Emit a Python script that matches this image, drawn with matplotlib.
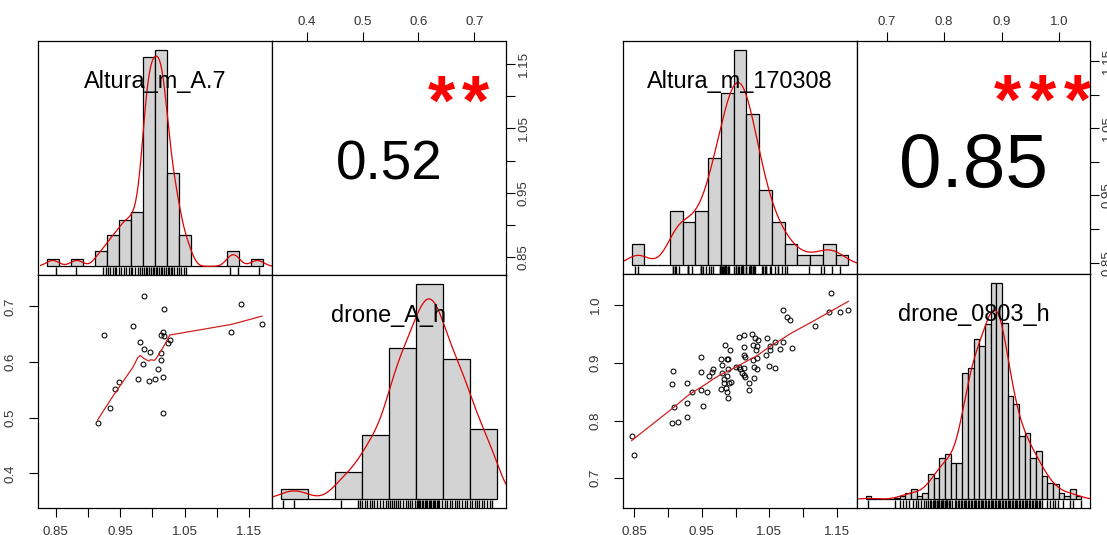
import numpy as np
import matplotlib
matplotlib.use("Agg")
import matplotlib.pyplot as plt
import matplotlib.transforms as mtransforms
from matplotlib.textpath import TextPath
from matplotlib.font_manager import FontProperties
from math import erf

plt.rcParams['font.family'] = ['Liberation Sans', 'DejaVu Sans']

# ---------------- data: left chart ----------------
left_names = ["Altura_m_A.7", "drone_A_h"]
left_r_text = "0.52"
left_stars = "**"

left_alt_breaks = [0.82, 0.84, 0.86, 0.88, 0.90, 0.92, 0.94, 0.96, 0.98, 1.00,
                   1.02, 1.04, 1.06, 1.08, 1.10, 1.12, 1.14, 1.16, 1.18]
left_alt_counts = [1, 0, 1, 0, 2, 4, 6, 7, 27, 28, 12, 4, 0, 0, 0, 2, 0, 1]
left_alt_rug = [0.836, 0.869, 0.914, 0.918, 0.922, 0.926, 0.930, 0.934, 0.936, 0.940,
                0.944, 0.949, 0.952, 0.956, 0.960, 0.962, 0.966, 0.971, 0.975, 0.979,
                0.982, 0.985, 0.987, 0.990, 0.993, 0.996, 0.998, 1.001, 1.004, 1.007,
                1.010, 1.012, 1.015, 1.018, 1.021, 1.023, 1.026, 1.029, 1.032, 1.036,
                1.040, 1.044, 1.048, 1.051, 1.125, 1.138, 1.172]

left_drone_breaks = [0.35, 0.40, 0.45, 0.50, 0.55, 0.60, 0.65, 0.70, 0.75]
left_drone_counts = [2, 0, 5, 12, 28, 40, 26, 13]
left_drone_rug = [0.3535, 0.375, 0.461, 0.492, 0.496, 0.500, 0.505, 0.509, 0.514, 0.519,
                  0.522, 0.528, 0.533, 0.539, 0.544, 0.548, 0.552, 0.555, 0.559, 0.562,
                  0.567, 0.571, 0.576, 0.581, 0.585, 0.588, 0.593, 0.5985, 0.601, 0.603,
                  0.606, 0.608, 0.611, 0.613, 0.616, 0.618, 0.621, 0.623, 0.626, 0.628,
                  0.631, 0.633, 0.635, 0.638, 0.640, 0.643, 0.648, 0.653, 0.657, 0.662,
                  0.667, 0.671, 0.675, 0.680, 0.685, 0.690, 0.694, 0.699, 0.704, 0.708,
                  0.712, 0.717, 0.722, 0.726, 0.731, 0.736, 0.741]

left_scatter_x = [0.915, 0.925, 0.934, 0.942, 0.9475, 0.9697, 0.977, 0.981, 0.9847, 0.9867,
                  0.9867, 0.9944, 0.9964, 1.0037, 1.0089, 1.013, 1.013, 1.013, 1.0166, 1.0166,
                  1.0166, 1.0187, 1.0187, 1.0243, 1.027, 1.1224, 1.1373, 1.1698]
left_scatter_y = [0.490, 0.649, 0.518, 0.551, 0.564, 0.664, 0.569, 0.636, 0.597, 0.719,
                  0.623, 0.566, 0.619, 0.569, 0.587, 0.603, 0.617, 0.649, 0.654, 0.573,
                  0.508, 0.695, 0.647, 0.634, 0.640, 0.655, 0.7036, 0.669]

left_v1_ticks = [0.85, 0.90, 0.95, 1.00, 1.05, 1.10, 1.15]
left_v1_labels = ["0.85", "", "0.95", "", "1.05", "", "1.15"]
left_v2_ticks = [0.4, 0.5, 0.6, 0.7]
left_v2_labels = ["0.4", "0.5", "0.6", "0.7"]

# ---------------- data: right chart ----------------
right_names = ["Altura_m_170308", "drone_0803_h"]
right_r_text = "0.85"
right_stars = "***"

right_alt_breaks = [0.84, 0.86, 0.88, 0.90, 0.92, 0.94, 0.96, 0.98, 1.00, 1.02,
                    1.04, 1.06, 1.08, 1.10, 1.12, 1.14, 1.16, 1.18]
right_alt_counts = [2, 0, 0, 5, 4, 5, 10, 16, 20, 14, 7, 4, 2, 1, 1, 2, 1]

right_drone_breaks = [0.66, 0.67, 0.68, 0.69, 0.70, 0.71, 0.72, 0.73, 0.74, 0.75,
                      0.76, 0.77, 0.78, 0.79, 0.80, 0.81, 0.82, 0.83, 0.84, 0.85,
                      0.86, 0.87, 0.88, 0.89, 0.90, 0.91, 0.92, 0.93, 0.94, 0.95,
                      0.96, 0.97, 0.98, 0.99, 1.00, 1.01, 1.02, 1.03, 1.04]
right_drone_counts = [2, 0, 0, 0, 0, 1, 2, 4, 6, 2, 4, 15, 13, 25, 27, 22, 22, 76, 79,
                      96, 92, 105, 130, 130, 106, 62, 57, 38, 40, 25, 29, 14, 10, 9, 4,
                      2, 6, 2]
right_drone_rug = [0.6636, 0.712, 0.7205, 0.726, 0.731, 0.737, 0.744, 0.749, 0.753, 0.757,
                   0.762, 0.766, 0.770, 0.773, 0.776, 0.778, 0.780, 0.7815, 0.783, 0.785,
                   0.787, 0.7885, 0.790, 0.792, 0.794, 0.7955, 0.797, 0.799, 0.801, 0.8025,
                   0.804, 0.806, 0.808, 0.8115, 0.8175, 0.820, 0.8225, 0.825, 0.8275, 0.830,
                   0.8325, 0.835, 0.8375, 0.840, 0.8425, 0.845, 0.8475, 0.850, 0.8525, 0.855,
                   0.8575, 0.860, 0.8625, 0.865, 0.8675, 0.870, 0.8725, 0.875, 0.8775, 0.880,
                   0.8825, 0.885, 0.8875, 0.890, 0.8925, 0.895, 0.8975, 0.900, 0.9025, 0.905,
                   0.9075, 0.910, 0.9125, 0.915, 0.9175, 0.920, 0.9225, 0.925, 0.9275, 0.930,
                   0.9325, 0.935, 0.9375, 0.940, 0.9425, 0.945, 0.9475, 0.950, 0.9525, 0.955,
                   0.9575, 0.960, 0.9625, 0.965, 0.967, 0.970, 0.9787, 0.9846, 0.9893, 0.9934,
                   0.9993, 1.0081, 1.0198, 1.0245, 1.0386]

right_scatter_x = [0.846, 0.850, 0.9054, 0.9074, 0.9054, 0.9093, 0.9143, 0.9286, 0.9286, 0.9286,
                   0.9351, 0.9484, 0.9484, 0.9489, 0.9524, 0.9573, 0.9608, 0.9647, 0.9672, 0.9781,
                   0.9796, 0.9796, 0.9781, 0.9821, 0.9831, 0.9845, 0.9860, 0.9870, 0.9885, 0.9880,
                   0.9870, 0.9870, 0.9885, 0.9919, 0.9909, 0.9929, 1.0003, 1.0043, 1.0043, 1.0068,
                   1.0092, 1.0127, 1.0127, 1.0127, 1.0142, 1.0127, 1.0117, 1.0142, 1.0191, 1.0201,
                   1.0241, 1.0251, 1.0280, 1.0251, 1.0266, 1.0266, 1.0300, 1.0315, 1.0315, 1.0330,
                   1.0315, 1.0453, 1.0463, 1.0498, 1.0513, 1.0513, 1.0577, 1.0587, 1.0651, 1.0696,
                   1.0696, 1.0760, 1.0800, 1.0834, 1.1180, 1.1378, 1.1413, 1.1551, 1.167]
right_scatter_y = [0.7734, 0.741, 0.8627, 0.8864, 0.7953, 0.8230, 0.7970, 0.8656, 0.8299, 0.8068,
                   0.8501, 0.9095, 0.8841, 0.8529, 0.8253, 0.8501, 0.8772, 0.8847, 0.8887, 0.9072,
                   0.8962, 0.8818, 0.8547, 0.8714, 0.8645, 0.9302, 0.8558, 0.9060, 0.9060, 0.8887,
                   0.8772, 0.8501, 0.8397, 0.9221, 0.8645, 0.8674, 0.8933, 0.9452, 0.8933, 0.8887,
                   0.8818, 0.9475, 0.9279, 0.9135, 0.9095, 0.8904, 0.8789, 0.8749, 0.8645, 0.8529,
                   0.9498, 0.9308, 0.9423, 0.9048, 0.8933, 0.8743, 0.9221, 0.8887, 0.9077, 0.9394,
                   0.9291, 0.9135, 0.9423, 0.8945, 0.9291, 0.9221, 0.9366, 0.8904, 0.9239, 0.9913,
                   0.9366, 0.9787, 0.9740, 0.9262, 0.9637, 0.9885, 1.0213, 0.9873, 0.9913]
right_alt_rug = right_scatter_x

right_v1_ticks = [0.85, 0.90, 0.95, 1.00, 1.05, 1.10, 1.15]
right_v1_labels = ["0.85", "", "0.95", "", "1.05", "", "1.15"]
right_v2_ticks = [0.7, 0.8, 0.9, 1.0]
right_v2_labels = ["0.7", "0.8", "0.9", "1.0"]

# kernel bandwidth multipliers (relative to nrd0 of the binned values)
left_bw_scale = [1.6, 0.85]
right_bw_scale = [1.0, 1.8]

# ---------------- drawing ----------------
W, H = 1107, 535
fig = plt.figure(figsize=(W / 100, H / 100), dpi=100)

TICK_LEN = 6.5
TICK_FS = 9.5
TICK_COL = '#333333'
LABEL_FS = 16.9
STAR_FONT = FontProperties(family='Liberation Sans', weight='bold')


def add_ax(x0, y0, x1, y1):
    return fig.add_axes([x0 / W, 1 - y1 / H, (x1 - x0) / W, (y1 - y0) / H])


def padded(vals):
    lo, hi = min(vals), max(vals)
    d = hi - lo
    return lo - 0.04 * d, hi + 0.04 * d


def clean(ax):
    for s in ax.spines.values():
        s.set_linewidth(0.9)
        s.set_color('black')
    ax.tick_params(bottom=False, top=False, left=False, right=False,
                   labelbottom=False, labeltop=False, labelleft=False, labelright=False)


def centered_text(ax, x, y, s, size, color, center_em, dx_pt=0.0, weight='normal'):
    tr = mtransforms.offset_copy(ax.transAxes, fig=fig, x=dx_pt, y=-center_em * size,
                                 units='points')
    ax.text(x, y, s, transform=tr, fontsize=size, ha='center', va='baseline',
            color=color, clip_on=True, fontweight=weight)


def star_text(ax, stars, fx, fy, h_px, pitch_px):
    ext = TextPath((0, 0), '*', size=1, prop=STAR_FONT).get_extents()
    size_pt = h_px / (ext.y1 - ext.y0) * 0.72
    center_em = (ext.y0 + ext.y1) / 2
    n = len(stars)
    for k in range(n):
        dx = (k - (n - 1) / 2) * pitch_px * 0.72
        centered_text(ax, fx, fy, '*', size_pt, '#FF0000', center_em, dx_pt=dx,
                      weight='bold')


_erf = np.vectorize(erf)


def Phi(z):
    return 0.5 * (1 + _erf(z / np.sqrt(2)))


def lowess(x, y, f=2 / 3, it=3):
    x = np.asarray(x, float)
    y = np.asarray(y, float)
    o = np.argsort(x, kind='stable')
    x, y = x[o], y[o]
    n = len(x)
    ns = max(min(int(f * n + 1e-7), n), 2)
    rw = np.ones(n)
    ys = np.zeros(n)
    rng = x[-1] - x[0]
    for k in range(it + 1):
        for i in range(n):
            d = np.abs(x - x[i])
            h = np.sort(d)[ns - 1]
            if h > 0:
                r = d / h
                w = np.where(r <= 0.999, (1 - np.clip(r, 0, 1) ** 3) ** 3, 0.0)
                w = np.where(r <= 0.001, 1.0, w)
            else:
                w = (d == 0).astype(float)
            w = w * rw
            sw = w.sum()
            if sw <= 0:
                ys[i] = y[i]
                continue
            w = w / sw
            xm = (w * x).sum()
            c = (w * (x - xm) ** 2).sum()
            if np.sqrt(c) > 0.001 * rng:
                b = w * (1 + (x[i] - xm) * (x - xm) / c)
                ys[i] = (b * y).sum()
            else:
                ys[i] = (w * y).sum()
        if k == it:
            break
        res = y - ys
        cmad = 6 * np.median(np.abs(res))
        if cmad < 1e-7 * np.mean(np.abs(y)):
            break
        u = np.abs(res) / cmad
        rw = np.where(u <= 0.001, 1.0, np.where(u <= 0.999, (1 - u ** 2) ** 2, 0.0))
    return x, ys


def hist_panel(ax, breaks, counts, rug, name, bw_scale):
    breaks = np.asarray(breaks, float)
    counts = np.asarray(counts, float)
    width = np.diff(breaks)
    n = counts.sum()
    dens = counts / (n * width)
    ax.bar(breaks[:-1], dens, width=width, align='edge', color='#D3D3D3',
           edgecolor='black', linewidth=0.9, zorder=1)
    M = dens.max()
    xr = breaks[-1] - breaks[0]
    ax.set_xlim(breaks[0] - 0.04 * xr, breaks[-1] + 0.04 * xr)
    ax.set_ylim(-0.04 * M, 1.04 * M)
    # kernel density (gaussian, nrd0-type bandwidth) of the binned values
    centers = (breaks[:-1] + breaks[1:]) / 2
    vals = np.repeat(centers, counts.astype(int))
    sd = vals.std(ddof=1)
    iqr = np.subtract(*np.percentile(vals, [75, 25]))
    bw = bw_scale * 0.9 * min(sd, iqr / 1.34) * len(vals) ** (-0.2)
    xs = np.linspace(min(rug) - 3 * bw, max(rug) + 3 * bw, 600)
    ys = np.zeros_like(xs)
    for a, b, dd in zip(breaks[:-1], breaks[1:], dens):
        ys += dd * (Phi((xs - a) / bw) - Phi((xs - b) / bw))
    ax.plot(xs, ys, color='#E00000', lw=0.9, zorder=2)
    ax.vlines(rug, 0, 0.035, transform=ax.get_xaxis_transform(), color='black',
              lw=1.0, zorder=3)
    centered_text(ax, 0.5, 0.833, name, LABEL_FS, 'black', 0.358)


def draw_pairs(x0, y0, xm, ym, x1, y1, names, r_text, r_size, stars, bw_scales,
               b1, c1, rug1, b2, c2, rug2, sx, sy, t1, l1, t2, l2):
    lim1 = padded(rug1)
    lim2 = padded(rug2)
    ax_tl = add_ax(x0, y0, xm, ym)
    ax_tr = add_ax(xm, y0, x1, ym)
    ax_bl = add_ax(x0, ym, xm, y1)
    ax_br = add_ax(xm, ym, x1, y1)
    for ax in (ax_tl, ax_tr, ax_bl, ax_br):
        clean(ax)

    hist_panel(ax_tl, b1, c1, rug1, names[0], bw_scales[0])
    hist_panel(ax_br, b2, c2, rug2, names[1], bw_scales[1])

    # scatter + lowess
    ax_bl.plot(sx, sy, 'o', mfc='none', mec='black', ms=3.5, mew=0.75, zorder=2)
    lx, ly = lowess(sx, sy)
    ax_bl.plot(lx, ly, color='#D02020', lw=0.9, zorder=3)
    ax_bl.set_xlim(*lim1)
    ax_bl.set_ylim(*lim2)
    ax_bl.set_xticks(t1, l1)
    ax_bl.set_yticks(t2, l2, rotation=90, va='center')
    ax_bl.tick_params(axis='x', bottom=True, labelbottom=True, direction='out',
                      length=TICK_LEN, width=0.8, pad=6.6, labelsize=TICK_FS,
                      labelcolor=TICK_COL)
    ax_bl.tick_params(axis='y', left=True, labelleft=True, direction='out',
                      length=TICK_LEN, width=0.8, pad=9.0, labelsize=TICK_FS,
                      labelcolor=TICK_COL)

    # correlation panel
    ax_tr.set_xlim(*lim2)
    ax_tr.set_ylim(*lim1)
    ax_tr.set_xticks(t2, l2)
    ax_tr.set_yticks(t1, l1, rotation=90, va='center')
    ax_tr.tick_params(axis='x', top=True, labeltop=True, bottom=False, labelbottom=False,
                      direction='out', length=TICK_LEN, width=0.8, pad=3.0,
                      labelsize=TICK_FS, labelcolor=TICK_COL)
    ax_tr.tick_params(axis='y', right=True, labelright=True, left=False, labelleft=False,
                      direction='out', length=TICK_LEN, width=0.8, pad=2.0,
                      labelsize=TICK_FS, labelcolor=TICK_COL)
    centered_text(ax_tr, 0.5, 0.492, r_text, r_size, 'black', 0.358)
    star_text(ax_tr, stars, 0.796, 0.794, 26, 34.6)


draw_pairs(38, 41, 272, 275, 506, 508, left_names, left_r_text, 39.5, left_stars,
           left_bw_scale,
           left_alt_breaks, left_alt_counts, left_alt_rug,
           left_drone_breaks, left_drone_counts, left_drone_rug,
           left_scatter_x, left_scatter_y,
           left_v1_ticks, left_v1_labels, left_v2_ticks, left_v2_labels)

draw_pairs(623, 41, 857, 274, 1090, 508, right_names, right_r_text, 55, right_stars,
           right_bw_scale,
           right_alt_breaks, right_alt_counts, right_alt_rug,
           right_drone_breaks, right_drone_counts, right_drone_rug,
           right_scatter_x, right_scatter_y,
           right_v1_ticks, right_v1_labels, right_v2_ticks, right_v2_labels)

fig.savefig("out.png", dpi=100)
